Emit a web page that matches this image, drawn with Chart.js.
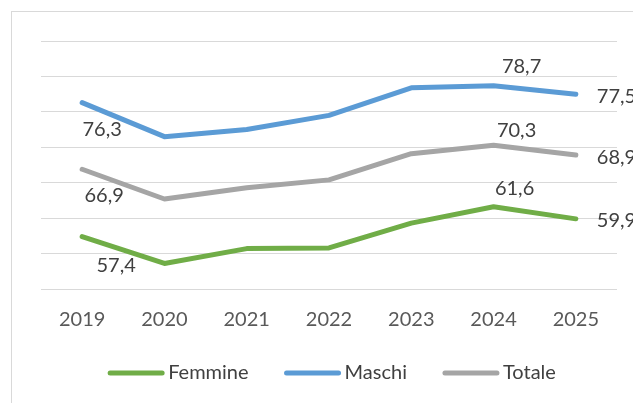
<!DOCTYPE html>
<html>
<head>
<meta charset="utf-8">
<script src="https://cdn.jsdelivr.net/npm/chart.js@4/dist/chart.umd.min.js"></script>
<style>
  html, body { margin: 0; padding: 0; background: #fff; }
  #wrap { position: relative; width: 633px; height: 403px; overflow: hidden; }
  #frame { position: absolute; left: 11px; top: 11px; width: 700px; height: 500px; border: 1px solid #d9d9d9; }
  #chartCanvas { position: absolute; left: 0; top: 0; }
</style>
</head>
<body>
<div id="wrap">
  <div id="frame"></div>
  <canvas id="chartCanvas" width="633" height="403"></canvas>
</div>
<script>
const years = ['2019', '2020', '2021', '2022', '2023', '2024', '2025'];
const femmine = [57.4, 53.6, 55.7, 55.8, 59.3, 61.6, 59.9];
const maschi = [76.3, 71.5, 72.5, 74.5, 78.4, 78.7, 77.5];
const totale = [66.9, 62.7, 64.3, 65.4, 69.1, 70.3, 68.9];
// only these points get a value label
const labelledPoints = [0, 5, 6];

const textColor = '#404040';
const fontFamily = 'Lato, "Open Sans", sans-serif';
const fontSize = 20;

// value labels next to the chosen points
const valueLabels = {
  id: 'valueLabels',
  afterDatasetsDraw(chart) {
    const ctx = chart.ctx;
    ctx.save();
    ctx.font = fontSize + 'px ' + fontFamily;
    ctx.fillStyle = textColor;
    ctx.textBaseline = 'middle';
    chart.data.datasets.forEach((ds, di) => {
      const meta = chart.getDatasetMeta(di);
      labelledPoints.forEach((i, k) => {
        const pt = meta.data[i];
        const txt = ds.data[i].toFixed(1).replace('.', ',');
        const off = ds.labelOffsets[k];
        ctx.textAlign = i == years.length - 1 ? 'left' : 'center';
        ctx.fillText(txt, pt.x + off[0], pt.y + off[1]);
      });
    });
    ctx.restore();
  }
};

// legend row under the axis: short thick line + name
const lineLegend = {
  id: 'lineLegend',
  afterDraw(chart) {
    const ctx = chart.ctx;
    const area = chart.chartArea;
    const sampleW = 56, gap = 4, spacing = 36;
    const y = 373;
    ctx.save();
    ctx.font = fontSize + 'px ' + fontFamily;
    const items = chart.data.datasets.map(ds => ({
      ds: ds,
      w: sampleW + gap + ctx.measureText(ds.label).width
    }));
    let total = items.reduce((s, it) => s + it.w, 0) + spacing * (items.length - 1);
    let x = (area.left + area.right) / 2 + 3 - total / 2;
    items.forEach(it => {
      ctx.strokeStyle = it.ds.borderColor;
      ctx.lineWidth = 5;
      ctx.lineCap = 'round';
      ctx.beginPath();
      ctx.moveTo(x + 2, y);
      ctx.lineTo(x + sampleW - 2, y);
      ctx.stroke();
      ctx.fillStyle = textColor;
      ctx.textAlign = 'left';
      ctx.textBaseline = 'middle';
      ctx.fillText(it.ds.label, x + sampleW + gap, y);
      x += it.w + spacing;
    });
    ctx.restore();
  }
};

function lineSet(label, data, color, offsets) {
  return {
    label: label,
    data: data,
    borderColor: color,
    backgroundColor: color,
    borderWidth: 5,
    pointRadius: 0,
    tension: 0,
    borderCapStyle: 'round',
    borderJoinStyle: 'round',
    labelOffsets: offsets
  };
}

const ctx = document.getElementById('chartCanvas').getContext('2d');
const chart = new Chart(ctx, {
  type: 'line',
  data: {
    labels: years,
    datasets: [
      lineSet('Femmine', femmine, '#70ad47', [[34, 29], [21, -18], [21, 2]]),
      lineSet('Maschi', maschi, '#5b9bd5', [[20, 27], [28, -19], [21, 2]]),
      lineSet('Totale', totale, '#a5a5a5', [[22, 26], [23, -15], [21, 2]])
    ]
  },
  options: {
    responsive: false,
    animation: false,
    layout: {
      padding: { left: 41, right: 16, top: 41, bottom: 52 }
    },
    scales: {
      y: {
        min: 50,
        max: 85,
        ticks: { display: false, stepSize: 5 },
        border: { display: false },
        grid: { color: '#d9d9d9', lineWidth: 1, drawTicks: false }
      },
      x: {
        offset: true,
        border: { display: false },
        grid: { display: false, drawTicks: false },
        ticks: {
          color: '#595959',
          padding: 19,
          font: { family: fontFamily, size: fontSize }
        }
      }
    },
    plugins: {
      legend: { display: false },
      tooltip: { enabled: false }
    }
  },
  plugins: [valueLabels, lineLegend]
});
</script>
</body>
</html>
